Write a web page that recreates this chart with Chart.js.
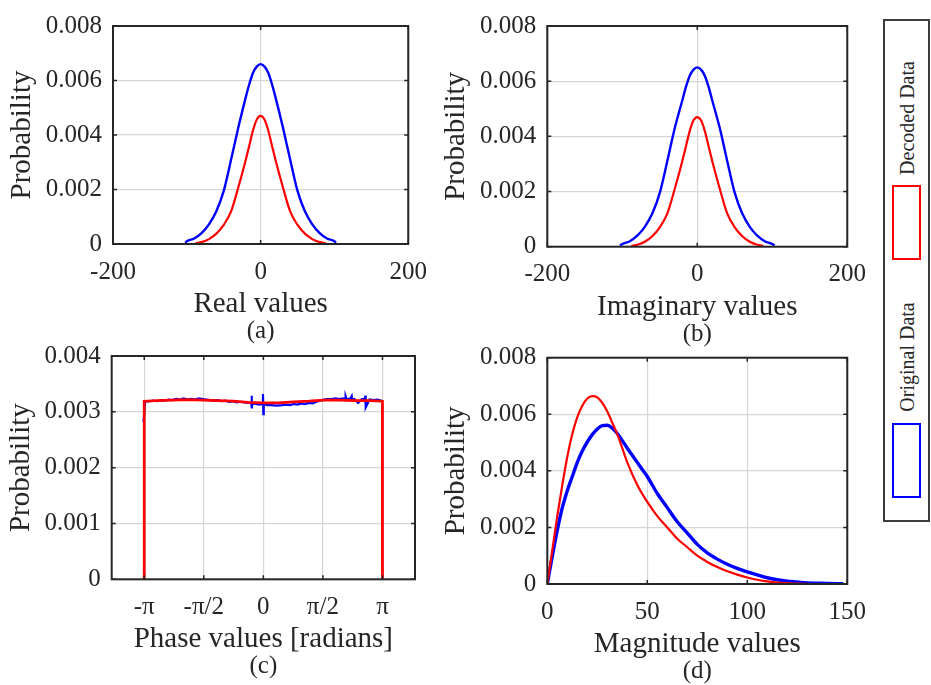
<!DOCTYPE html>
<html>
<head>
<meta charset="utf-8">
<script src="https://cdn.jsdelivr.net/npm/chart.js@4.4.1/dist/chart.umd.min.js"></script>
<style>
  html, body { margin: 0; padding: 0; background: #fff; }
  body {
    width: 931px; height: 685px; position: relative; overflow: hidden;
    font-family: "Liberation Serif", "Times New Roman", serif; color: #262626;
  }
  canvas { position: absolute; }
  .legend-box {
    position: absolute; left: 883px; top: 19px; width: 43px; height: 499px;
    border: 2px solid #3c3c3c; background: #fff;
  }
  .swatch { position: absolute; left: 892px; width: 25px; height: 71px; border: 2px solid; background: #fff; }
  .legend-text {
    position: absolute; font-size: 20px; line-height: 1; white-space: nowrap;
    transform: translate(-50%, -50%) rotate(-90deg);
  }
</style>
</head>
<body>
<canvas id="panelA"></canvas>
<canvas id="panelB"></canvas>
<canvas id="panelC"></canvas>
<canvas id="panelD"></canvas>
<div class="legend-box"></div>
<div id="legend"></div>

<script>
  const SERIES_NAMES = ["Original Data", "Decoded Data"];
  const BLUE = "#0000ff";
  const RED = "#ff0000";
  const TEXT = "#262626";
  const FONT = "'Liberation Serif', 'Times New Roman', serif";

  // (a) real part
  const realBlueX = [-102, -100, -90, -80, -70, -60, -50, -40, -30, -20, -15, -10, -5, 0, 5, 10, 15, 20, 30, 40, 50, 60, 70, 80, 90, 100, 102];
  const realBlueY = [0.00004, 0.0001, 0.0002, 0.0004, 0.00072, 0.0012, 0.00195, 0.0031, 0.0043, 0.0054, 0.0059, 0.0063, 0.00652, 0.0066,
                     0.00652, 0.0063, 0.0059, 0.0054, 0.0043, 0.0031, 0.00195, 0.0012, 0.00072, 0.0004, 0.0002, 0.0001, 0.00004];
  const realRedX = [-88, -80, -70, -60, -50, -40, -30, -20, -15, -10, -5, 0, 5, 10, 15, 20, 30, 40, 50, 60, 70, 80, 88];
  const realRedY = [0.00003, 0.00007, 0.00018, 0.00038, 0.0007, 0.0012, 0.0021, 0.0031, 0.00365, 0.0042, 0.00458, 0.0047,
                    0.00458, 0.0042, 0.00365, 0.0031, 0.0021, 0.0012, 0.0007, 0.00038, 0.00018, 0.00007, 0.00003];

  // (b) imaginary part
  const imagBlueX = [-103, -100, -90, -80, -70, -60, -50, -40, -30, -20, -15, -10, -5, 0, 5, 10, 15, 20, 30, 40, 50, 60, 70, 80, 90, 100, 103];
  const imagBlueY = [0.00004, 0.0001, 0.0002, 0.0004, 0.00072, 0.0012, 0.00195, 0.0031, 0.0043, 0.0053, 0.0058, 0.0062, 0.00642, 0.0065,
                     0.00642, 0.0062, 0.0058, 0.0053, 0.0043, 0.0031, 0.00195, 0.0012, 0.00072, 0.0004, 0.0002, 0.0001, 0.00004];
  const imagRedX = [-88, -80, -70, -60, -50, -40, -30, -20, -15, -10, -5, 0, 5, 10, 15, 20, 30, 40, 50, 60, 70, 80, 88];
  const imagRedY = [0.00003, 0.00007, 0.00018, 0.00038, 0.0007, 0.0012, 0.0021, 0.0031, 0.00365, 0.0042, 0.00458, 0.0047,
                    0.00458, 0.0042, 0.00365, 0.0031, 0.0021, 0.0012, 0.0007, 0.00038, 0.00018, 0.00007, 0.00003];

  // (c) phase
  const phaseTicks = [-Math.PI, -Math.PI / 2, 0, Math.PI / 2, Math.PI];
  const phaseTickLabels = ["-π", "-π/2", "0", "π/2", "π"];
  const phaseBlueX = [-3.16, -3.12, -3.0, -2.9, -2.8, -2.7, -2.6, -2.5, -2.4, -2.3, -2.2, -2.1, -2.0, -1.9, -1.8, -1.7,
                      -1.6, -1.5, -1.4, -1.3, -1.2, -1.1, -1.0, -0.9, -0.8, -0.7, -0.6, -0.5, -0.4, -0.32, -0.31, -0.30,
                      -0.29, -0.2, -0.1, -0.02, -0.01, 0, 0.01, 0.1, 0.2, 0.35, 0.5, 0.6, 0.7, 0.8, 0.9, 1.0, 1.1, 1.2,
                      1.3, 1.4, 1.5, 1.6, 1.7, 1.8, 1.9, 2.0, 2.1, 2.16, 2.17, 2.2, 2.3, 2.33, 2.34, 2.4, 2.5, 2.6,
                      2.68, 2.69, 2.70, 2.8, 2.9, 3.0, 3.1, 3.14];
  const phaseBlueY = [0.00282, 0.00318, 0.00319, 0.00320, 0.00319, 0.00321, 0.00320, 0.00322, 0.00321, 0.00323, 0.00322,
                      0.00324, 0.00322, 0.00323, 0.00322, 0.00324, 0.00323, 0.00322, 0.00321, 0.00320, 0.00321, 0.00319,
                      0.00320, 0.00318, 0.00319, 0.00317, 0.00318, 0.00317, 0.00316, 0.00316, 0.00329, 0.00306, 0.00315,
                      0.00314, 0.00313, 0.00314, 0.00332, 0.00296, 0.00314, 0.00312, 0.00312, 0.00311, 0.00312, 0.00313,
                      0.00312, 0.00314, 0.00313, 0.00315, 0.00314, 0.00316, 0.00315, 0.00318, 0.00320, 0.00322, 0.00323,
                      0.00323, 0.00324, 0.00323, 0.00324, 0.00323, 0.00328, 0.00322, 0.00324, 0.00328, 0.00322, 0.00323,
                      0.00316, 0.00323, 0.00323, 0.00329, 0.00308, 0.00322, 0.00321, 0.00322, 0.00320, 0.00319];
  const phaseRedX = [-3.1416, -3.1416, -2.8, -2.4, -2.0, -1.6, -1.2, -0.8, -0.4, 0, 0.4, 0.8, 1.2, 1.6, 2.0, 2.4, 2.8, 3.1416, 3.1416];
  const phaseRedY = [0, 0.00319, 0.00320, 0.00321, 0.00322, 0.00321, 0.00320, 0.00319, 0.00317, 0.00316, 0.00316,
                     0.00318, 0.00319, 0.00321, 0.00321, 0.00320, 0.00320, 0.00319, 0];

  // (d) magnitude
  const magBlueX = [0, 2.5, 5, 7.5, 10, 12.5, 15, 17.5, 20, 22.5, 25, 27.5, 30, 32.5, 35, 37.5, 40, 42.5,
                    45, 47.5, 50, 55, 60, 65, 70, 75, 80, 85, 90, 95, 100, 105, 110, 115, 120, 125, 130, 135, 140, 148];
  const magBlueY = [0, 0.00098, 0.0019, 0.0027, 0.0033, 0.0038, 0.0043, 0.0047, 0.00502, 0.00528, 0.00548, 0.0056,
                    0.00561, 0.00551, 0.00532, 0.00507, 0.0048, 0.00455, 0.0043, 0.00405, 0.0038, 0.0032,
                    0.0027, 0.0022, 0.0018, 0.0014, 0.0011, 0.00088, 0.0007, 0.00055, 0.00043, 0.00032, 0.00022,
                    0.00015, 0.0001, 0.00007, 0.00004, 0.00003, 0.00002, 0.00001];
  const magRedX = [0, 2.5, 5, 7.5, 10, 12.5, 15, 17.5, 20, 22.5, 25, 27.5, 30, 32.5, 35, 37.5, 40, 45, 50, 55, 60, 65,
                   70, 75, 80, 85, 90, 95, 100, 105, 110, 115, 120, 125, 131];
  const magRedY = [0, 0.0012, 0.0024, 0.0035, 0.0045, 0.0053, 0.0059, 0.0063, 0.00656, 0.00664, 0.0066, 0.0064, 0.0061,
                   0.0057, 0.0053, 0.0048, 0.0043, 0.0035, 0.0029, 0.0024, 0.0020, 0.0016, 0.0013, 0.0010, 0.00078,
                   0.0006, 0.00045, 0.00033, 0.00023, 0.00015, 0.00009, 0.00005, 0.00003, 0.00001, 0];

  const X_BAND = 75;       // tick labels + axis title below the plot
  const CAPTION_BAND = 25; // "(a)" etc.
  const GRID = "#d6d6d6";

  function points(xs, ys) {
    return xs.map((x, i) => ({ x, y: ys[i] }));
  }

  function formatProb(value) {
    return value === 0 ? "0" : value.toFixed(3);
  }

  // box and inward tick marks, like the original figure
  const framePlugin = {
    id: "frame",
    afterDatasetsDraw(chart) {
      const { ctx, chartArea: a, scales } = chart;
      ctx.save();
      ctx.strokeStyle = TEXT;
      ctx.lineWidth = 1.5;
      ctx.beginPath();
      scales.y.ticks.forEach((t) => {
        const p = scales.y.getPixelForValue(t.value);
        ctx.moveTo(a.left, p); ctx.lineTo(a.left + 4, p);
        ctx.moveTo(a.right, p); ctx.lineTo(a.right - 4, p);
      });
      scales.x.ticks.forEach((t) => {
        const p = scales.x.getPixelForValue(t.value);
        ctx.moveTo(p, a.bottom); ctx.lineTo(p, a.bottom - 4);
        ctx.moveTo(p, a.top); ctx.lineTo(p, a.top + 4);
      });
      ctx.stroke();
      ctx.lineWidth = 2;
      ctx.strokeRect(a.left, a.top, a.right - a.left, a.bottom - a.top);
      ctx.restore();
    },
  };

  function makePanel(cfg) {
    const canvas = document.getElementById(cfg.id);
    const { plot, origin } = cfg;
    const width = Math.ceil(plot.right - origin.x + 26);
    const height = Math.ceil(plot.bottom - origin.y + X_BAND + CAPTION_BAND);
    canvas.width = width;
    canvas.height = height;
    canvas.style.left = origin.x + "px";
    canvas.style.top = origin.y + "px";
    const yWidth = plot.left - origin.x;

    return new Chart(canvas, {
      type: "line",
      data: { datasets: cfg.datasets },
      plugins: [framePlugin],
      options: {
        responsive: false,
        animation: false,
        events: [],
        layout: {
          padding: {
            left: 0,
            top: plot.top - origin.y,
            right: width - (plot.right - origin.x),
            bottom: height - (plot.bottom - origin.y) - X_BAND - CAPTION_BAND,
          },
        },
        plugins: {
          legend: { display: false },
          tooltip: { enabled: false },
          title: {
            display: true,
            text: cfg.caption,
            position: "bottom",
            fullSize: false,
            color: TEXT,
            padding: 0,
            font: { family: FONT, size: 25, weight: "normal", lineHeight: 1 },
          },
        },
        scales: {
          x: {
            type: "linear",
            min: cfg.x.min,
            max: cfg.x.max,
            afterFit(scale) { scale.height = X_BAND; },
            afterBuildTicks: cfg.x.ticks
              ? (scale) => { scale.ticks = cfg.x.ticks.map((v) => ({ value: v })); }
              : undefined,
            ticks: {
              stepSize: cfg.x.step,
              color: TEXT,
              padding: 13,
              maxRotation: 0,
              autoSkip: false,
              font: { family: FONT, size: 25 },
              callback: cfg.x.labels ? (v, i) => cfg.x.labels[i] : (v) => String(v),
            },
            grid: { color: GRID, lineWidth: 1.2, drawTicks: false },
            border: { display: false },
            title: {
              display: true,
              text: cfg.x.title,
              color: TEXT,
              padding: { top: 0, bottom: 0 },
              font: { family: FONT, size: 29, lineHeight: 1 },
            },
          },
          y: {
            min: 0,
            max: cfg.y.max,
            afterFit(scale) { scale.width = yWidth; },
            ticks: {
              stepSize: cfg.y.step,
              color: TEXT,
              padding: 11,
              font: { family: FONT, size: 25 },
              callback: formatProb,
            },
            grid: { color: GRID, lineWidth: 1.2, drawTicks: false },
            border: { display: false },
            title: {
              display: true,
              text: "Probability",
              color: TEXT,
              padding: { top: cfg.yTitleX - origin.x - 14.5, bottom: 0 },
              font: { family: FONT, size: 29, lineHeight: 1 },
            },
          },
        },
      },
    });
  }

  function series(label, color, xs, ys, width, smooth) {
    return {
      label,
      data: points(xs, ys),
      borderColor: color,
      backgroundColor: color,
      borderWidth: width,
      pointRadius: 0,
      fill: false,
      cubicInterpolationMode: smooth ? "monotone" : "default",
      tension: 0,
    };
  }

  makePanel({
    id: "panelA",
    origin: { x: 0, y: 0 },
    plot: { left: 113, right: 414, top: 16, bottom: 244 },
    yTitleX: 22,
    caption: "(a)",
    x: { min: -200, max: 200, step: 200, title: "Real values" },
    y: { max: 0.008, step: 0.002 },
    datasets: [
      series(SERIES_NAMES[1], RED, realRedX, realRedY, 2.2, true),
      series(SERIES_NAMES[0], BLUE, realBlueX, realBlueY, 2.4, true),
    ],
  });

  makePanel({
    id: "panelB",
    origin: { x: 440, y: 0 },
    plot: { left: 547.3, right: 852.3, top: 17.3, bottom: 246.7 },
    yTitleX: 456,
    caption: "(b)",
    x: { min: -200, max: 200, step: 200, title: "Imaginary values" },
    y: { max: 0.008, step: 0.002 },
    datasets: [
      series(SERIES_NAMES[1], RED, imagRedX, imagRedY, 2.2, true),
      series(SERIES_NAMES[0], BLUE, imagBlueX, imagBlueY, 2.4, true),
    ],
  });

  makePanel({
    id: "panelC",
    origin: { x: 0, y: 330 },
    plot: { left: 111.7, right: 415, top: 353.3, bottom: 579.3 },
    yTitleX: 21,
    caption: "(c)",
    x: { min: -4, max: 4, ticks: phaseTicks, labels: phaseTickLabels, title: "Phase values [radians]" },
    y: { max: 0.004, step: 0.001 },
    datasets: [
      series(SERIES_NAMES[1], RED, phaseRedX, phaseRedY, 2.8, false),
      series(SERIES_NAMES[0], BLUE, phaseBlueX, phaseBlueY, 2.2, false),
    ],
  });

  makePanel({
    id: "panelD",
    origin: { x: 440, y: 330 },
    plot: { left: 547.3, right: 852.3, top: 357.7, bottom: 584 },
    yTitleX: 456,
    caption: "(d)",
    x: { min: 0, max: 150, step: 50, title: "Magnitude values" },
    y: { max: 0.008, step: 0.002 },
    datasets: [
      series(SERIES_NAMES[1], RED, magRedX, magRedY, 2.2, true),
      series(SERIES_NAMES[0], BLUE, magBlueX, magBlueY, 3.4, true),
    ],
  });

  // vertical legend at the right, text reading bottom to top
  const legendItems = [
    { name: SERIES_NAMES[1], color: RED, swatchTop: 185, textY: 118 },
    { name: SERIES_NAMES[0], color: BLUE, swatchTop: 423, textY: 357 },
  ];
  const legend = document.getElementById("legend");
  legendItems.forEach((item) => {
    const sw = document.createElement("div");
    sw.className = "swatch";
    sw.style.top = item.swatchTop + "px";
    sw.style.borderColor = item.color;
    legend.appendChild(sw);
    const tx = document.createElement("div");
    tx.className = "legend-text";
    tx.style.left = "907px";
    tx.style.top = item.textY + "px";
    tx.textContent = item.name;
    legend.appendChild(tx);
  });
</script>
</body>
</html>
